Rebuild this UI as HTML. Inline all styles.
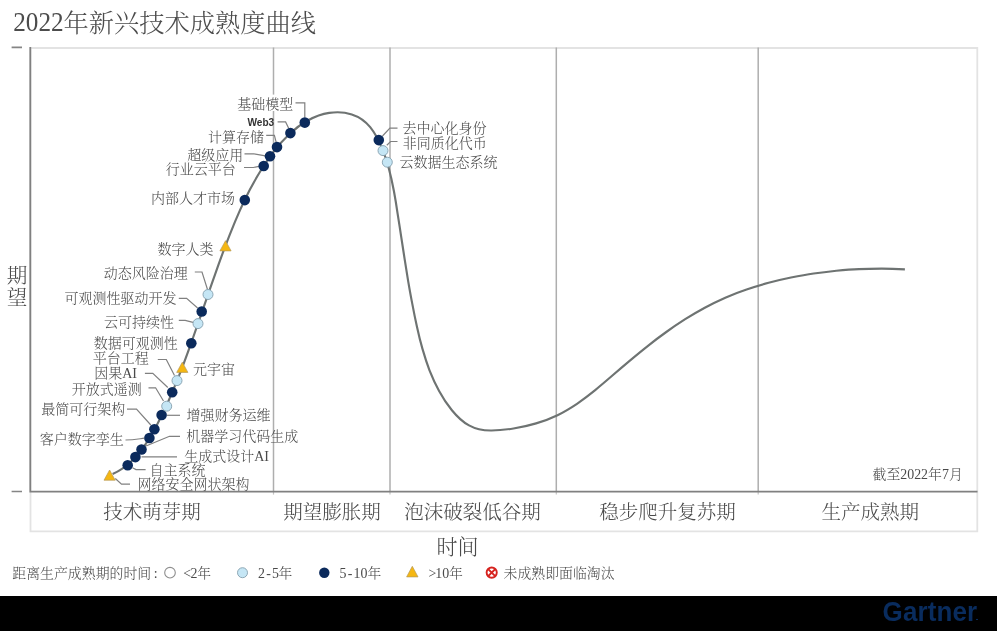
<!DOCTYPE html>
<html lang="zh-CN">
<head>
<meta charset="utf-8">
<title>2022年新兴技术成熟度曲线</title>
<style>
html,body{margin:0;padding:0;background:#fff;}
body{width:997px;height:631px;overflow:hidden;position:relative;}
svg{position:absolute;left:0;top:0;display:block;}
.title{position:absolute;left:13.2px;top:3px;margin:0;height:40px;line-height:40px;white-space:nowrap;font-family:"Liberation Serif","Noto Serif CJK SC",serif;font-weight:300;font-size:25.25px;color:#4c4c4c;}
.title .num{display:inline-block;font-size:25.2px;transform:translateY(-1.2px) scaleY(1.07);transform-origin:0 28.5px;margin-right:0;}
.bar{position:absolute;left:0;top:596px;width:997px;height:35px;background:#000;}
.logo{position:absolute;left:882.6px;top:-4.1px;height:40px;line-height:40px;font-family:"Liberation Sans",sans-serif;font-weight:bold;font-size:26px;letter-spacing:0.1px;color:#092c5e;transform:scaleY(1.03);transform-origin:0 29px;white-space:nowrap;}
.dot{position:absolute;left:93.8px;top:26.9px;width:1.6px;height:1.6px;background:#092c5e;}
text{font-family:"Liberation Serif","Noto Serif CJK SC",serif;fill:#4a4a4a;font-weight:300;}
.lb{font-size:14px;}
.ax{font-size:19.5px;}
.lg{font-size:13.9px;}
</style>
</head>
<body>
<svg width="997" height="631" viewBox="0 0 997 631">
<rect x="0" y="0" width="997" height="631" fill="#fff"/>
<path d="M30.5 48H977.3V531.4H30.5Z" fill="none" stroke="#e3e3e3" stroke-width="1.8"/>
<line x1="273.5" y1="47.5" x2="273.5" y2="491.5" stroke="#aeaeae" stroke-width="1.5"/>
<line x1="273.5" y1="491.5" x2="273.5" y2="494.6" stroke="#c4c4c4" stroke-width="1.2"/>
<line x1="390.0" y1="47.5" x2="390.0" y2="491.5" stroke="#aeaeae" stroke-width="1.5"/>
<line x1="390.0" y1="491.5" x2="390.0" y2="494.6" stroke="#c4c4c4" stroke-width="1.2"/>
<line x1="556.3" y1="47.5" x2="556.3" y2="491.5" stroke="#aeaeae" stroke-width="1.5"/>
<line x1="556.3" y1="491.5" x2="556.3" y2="494.6" stroke="#c4c4c4" stroke-width="1.2"/>
<line x1="758.2" y1="47.5" x2="758.2" y2="491.5" stroke="#aeaeae" stroke-width="1.5"/>
<line x1="758.2" y1="491.5" x2="758.2" y2="494.6" stroke="#c4c4c4" stroke-width="1.2"/>
<rect x="238" y="94.6" width="56" height="16.4" fill="#fff"/>
<path d="M30.3 47V491.7H977.5" fill="none" stroke="#808080" stroke-width="1.8"/>
<path d="M11.6 47.4H22M11.6 491.5H22" stroke="#858585" stroke-width="1.6"/>
<text x="6.8" y="282.6" style="font-size:20.6px">期</text>
<text x="6.8" y="305" style="font-size:20.6px">望</text>
<path d="M112.6 474.1C119.8 470.9 126.0 466.5 131.4 461.3C136.9 456.1 141.6 450.1 145.8 443.8C150.0 437.4 153.8 430.7 157.4 423.9C161.0 417.1 164.3 410.2 167.5 403.3C170.6 396.3 173.6 389.3 176.4 382.2C179.3 375.2 182.0 368.1 184.7 360.9C187.3 353.8 189.9 346.6 192.4 339.5C195.0 332.3 197.5 325.1 200.0 317.9C202.5 310.7 204.9 303.5 207.4 296.3C209.9 289.1 212.4 281.8 215.0 274.6C217.5 267.4 220.1 260.2 222.7 253.1C225.4 245.9 228.1 238.7 231.0 231.6C233.8 224.5 236.8 217.4 239.9 210.4C243.0 203.4 246.3 196.5 249.8 189.8C253.4 183.0 257.1 176.4 261.1 170.0C265.1 163.5 269.4 157.3 274.0 151.2C278.6 145.2 283.6 139.5 289.2 134.2C294.8 129.0 301.0 124.2 307.8 120.5C314.5 116.8 321.7 114.0 329.2 112.9C336.7 111.7 344.6 112.1 351.8 114.4C359.0 116.7 365.3 121.1 370.2 127.1C375.0 133.1 378.6 140.1 381.6 147.1C384.5 154.1 386.9 161.4 388.9 168.7C390.9 176.0 392.5 183.5 393.9 191.0C395.3 198.5 396.5 206.0 397.6 213.6C398.8 221.1 400.0 228.6 401.1 236.2C402.3 243.7 403.4 251.3 404.6 258.8C405.8 266.4 407.0 273.9 408.2 281.4C409.5 288.9 410.8 296.4 412.3 303.9C413.7 311.4 415.2 318.9 416.9 326.4C418.5 333.8 420.3 341.3 422.4 348.6C424.5 355.9 426.8 363.2 429.5 370.3C432.3 377.3 435.4 384.3 439.1 391.0C442.7 397.7 447.0 404.2 451.9 410.2C456.8 416.2 462.4 421.8 469.0 425.4C475.5 429.0 483.0 430.5 490.6 430.5C498.1 430.6 505.9 429.7 513.5 428.5C521.2 427.3 528.8 425.6 536.1 423.4C543.5 421.2 550.7 418.5 557.5 415.2C564.3 411.9 570.7 408.0 577.0 403.8C583.2 399.5 589.3 394.9 595.2 390.1C601.1 385.3 606.9 380.3 612.7 375.3C618.5 370.2 624.3 365.2 630.2 360.3C636.1 355.4 642.0 350.5 648.0 345.8C654.0 341.0 660.1 336.4 666.3 332.0C672.5 327.5 678.8 323.3 685.2 319.2C691.6 315.1 698.1 311.3 704.8 307.7C711.5 304.1 718.3 300.8 725.3 297.7C732.2 294.7 739.4 291.9 746.6 289.5C753.8 287.0 761.2 284.7 768.6 282.8C776.0 280.8 783.5 279.0 791.0 277.5C798.6 276.0 806.1 274.6 813.7 273.5C821.2 272.4 828.8 271.5 836.3 270.7C843.9 270.0 851.4 269.4 859.0 269.1C866.5 268.7 874.1 268.6 881.8 268.6C889.4 268.7 897.1 269.0 904.9 269.4" fill="none" stroke="#6e7372" stroke-width="2.15"/>
<g fill="none" stroke="#808080" stroke-width="1.2">
<path d="M295.5 102.9H304.8V117.5"/>
<path d="M277.6 121.9H285.6L288.8 128.5"/>
<path d="M266.2 135.3H274.4L276.2 142.3"/>
<path d="M244.5 153.9H254L265.4 155.8"/>
<path d="M244 167.5H253.5L259 166.3"/>
<path d="M194.8 272H202L207.5 289.5"/>
<path d="M178.8 298.4H186.6L197.6 308"/>
<path d="M178.8 320.3H185.2L193 322.3"/>
<path d="M157.8 359.5H166.3L174.5 375.5"/>
<path d="M144.9 373.4H152.8L167.8 387.5"/>
<path d="M148.5 387.8H155.6L163.5 401"/>
<path d="M127 409.2H136.5L150.8 425"/>
<path d="M125.5 440 C133 440 138 439 144.2 438.2"/>
<path d="M166.8 415.3H180"/>
<path d="M146 446 L169.5 436.3H180"/>
<path d="M141.5 456.8H177"/>
<path d="M132.5 467.8L136 469.6H145.6"/>
<path d="M115.3 478.5L121.5 484.2H130"/>
<path d="M382.5 136L389.9 128.1H397.5"/>
<path d="M386.8 145.2L390.6 141.5H397.5"/>
</g>
<path d="M109.6 470.0L115.2 480.2H104.0Z" fill="#f5b712" stroke="#b59a5a" stroke-width="0.7"/>
<circle cx="127.7" cy="465.2" r="5.3" fill="#0b2a5c"/>
<circle cx="135.4" cy="457.1" r="5.3" fill="#0b2a5c"/>
<circle cx="141.5" cy="449.5" r="5.3" fill="#0b2a5c"/>
<circle cx="149.4" cy="438.0" r="5.3" fill="#0b2a5c"/>
<circle cx="154.4" cy="429.2" r="5.3" fill="#0b2a5c"/>
<circle cx="161.6" cy="415.0" r="5.3" fill="#0b2a5c"/>
<circle cx="166.7" cy="406.2" r="5" fill="#c5e6f5" stroke="#849fae" stroke-width="0.9"/>
<circle cx="172.2" cy="392.2" r="5.3" fill="#0b2a5c"/>
<circle cx="177.0" cy="380.6" r="5" fill="#c5e6f5" stroke="#849fae" stroke-width="0.9"/>
<path d="M182.3 362.2L187.9 372.4H176.7Z" fill="#f5b712" stroke="#b59a5a" stroke-width="0.7"/>
<circle cx="191.3" cy="343.2" r="5.3" fill="#0b2a5c"/>
<circle cx="198.0" cy="323.6" r="5" fill="#c5e6f5" stroke="#849fae" stroke-width="0.9"/>
<circle cx="201.7" cy="311.5" r="5.3" fill="#0b2a5c"/>
<circle cx="208.0" cy="294.5" r="5" fill="#c5e6f5" stroke="#849fae" stroke-width="0.9"/>
<path d="M225.5 240.7L231.1 250.9H219.9Z" fill="#f5b712" stroke="#b59a5a" stroke-width="0.7"/>
<circle cx="244.8" cy="200.1" r="5.3" fill="#0b2a5c"/>
<circle cx="263.7" cy="166.0" r="5.3" fill="#0b2a5c"/>
<circle cx="270.0" cy="156.2" r="5.3" fill="#0b2a5c"/>
<circle cx="277.0" cy="147.1" r="5.3" fill="#0b2a5c"/>
<circle cx="290.4" cy="133.1" r="5.3" fill="#0b2a5c"/>
<circle cx="304.8" cy="122.6" r="5.3" fill="#0b2a5c"/>
<circle cx="378.8" cy="140.1" r="5.3" fill="#0b2a5c"/>
<circle cx="383.0" cy="150.6" r="5" fill="#c5e6f5" stroke="#849fae" stroke-width="0.9"/>
<circle cx="387.3" cy="162.2" r="5" fill="#c5e6f5" stroke="#849fae" stroke-width="0.9"/>
<text class="lb" x="293.2" y="109.2" text-anchor="end">基础模型</text>
<text class="lb" x="264.0" y="141.6" text-anchor="end">计算存储</text>
<text class="lb" x="243.2" y="160.0" text-anchor="end">超级应用</text>
<text class="lb" x="235.8" y="174.2" text-anchor="end">行业云平台</text>
<text class="lb" x="235.0" y="203.0" text-anchor="end">内部人才市场</text>
<text class="lb" x="213.5" y="254.3" text-anchor="end">数字人类</text>
<text class="lb" x="187.7" y="277.8" text-anchor="end">动态风险治理</text>
<text class="lb" x="176.5" y="302.6" text-anchor="end">可观测性驱动开发</text>
<text class="lb" x="174.0" y="326.7" text-anchor="end">云可持续性</text>
<text class="lb" x="177.8" y="348.3" text-anchor="end">数据可观测性</text>
<text class="lb" x="148.8" y="363.4" text-anchor="end">平台工程</text>
<text class="lb" x="137.0" y="378.0" text-anchor="end">因果AI</text>
<text class="lb" x="141.8" y="393.5" text-anchor="end">开放式遥测</text>
<text class="lb" x="125.2" y="414.4" text-anchor="end">最简可行架构</text>
<text class="lb" x="123.8" y="443.7" text-anchor="end">客户数字孪生</text>
<text class="lb" x="193.0" y="374.2">元宇宙</text>
<text class="lb" x="186.6" y="419.8">增强财务运维</text>
<text class="lb" x="186.2" y="440.8">机器学习代码生成</text>
<text class="lb" x="184.2" y="460.9">生成式设计AI</text>
<text class="lb" x="149.4" y="474.5">自主系统</text>
<text class="lb" x="137.6" y="488.6">网络安全网状架构</text>
<text class="lb" x="402.5" y="132.5">去中心化身份</text>
<text class="lb" x="402.7" y="148.4">非同质化代币</text>
<text class="lb" x="399.6" y="167.3">云数据生态系统</text>
<text transform="translate(274.2 126) scale(0.9 1)" text-anchor="end" style="font-family:'Liberation Sans',sans-serif;font-weight:bold;font-size:11.2px;fill:#333">Web3</text>
<text class="lg" x="872.5" y="478.8">截至2022年7月</text>
<text class="ax" x="152.1" y="519" text-anchor="middle">技术萌芽期</text>
<text class="ax" x="332.0" y="519" text-anchor="middle">期望膨胀期</text>
<text class="ax" x="472.5" y="519" text-anchor="middle">泡沫破裂低谷期</text>
<text class="ax" x="667.5" y="519" text-anchor="middle">稳步爬升复苏期</text>
<text class="ax" x="870.2" y="519" text-anchor="middle">生产成熟期</text>
<text x="457.5" y="553.5" text-anchor="middle" style="font-size:21px">时间</text>
<text class="lg" x="12.3" y="578">距离生产成熟期的时间<tspan dx="2.5">:</tspan></text>
<circle cx="170" cy="572.7" r="5.3" fill="#fff" stroke="#8e8e8e" stroke-width="1.1"/>
<text class="lg" x="183.3 190.5 197.2" y="578">&lt;2年</text>
<circle cx="242.5" cy="572.7" r="5" fill="#c5e6f5" stroke="#849fae" stroke-width="0.9"/>
<text class="lg" x="258 266.2 271.9 278.6" y="578">2-5年</text>
<circle cx="324.3" cy="572.7" r="5.2" fill="#0b2a5c"/>
<text class="lg" x="339.5 347.7 353.4 360.4 367.5" y="578">5-10年</text>
<path d="M412.3 566.3L418 576.9H406.6Z" fill="#f5b712" stroke="#b59a5a" stroke-width="0.7"/>
<text class="lg" x="428.6 435.3 442.3 449.1" y="578">&gt;10年</text>
<g stroke="#d6231f" fill="none"><circle cx="491.7" cy="572.6" r="5.1" fill="#fff" stroke-width="1.9"/><path d="M488.2 569.1L495.2 576.1M495.2 569.1L488.2 576.1" stroke-width="2"/></g>
<text class="lg" x="503.5" y="578">未成熟即面临淘汰</text>
</svg>
<h1 class="title"><span class="num">2022</span>年新兴技术成熟度曲线</h1>
<footer class="bar"><span class="logo">Gartner<i class="dot"></i></span></footer>
</body>
</html>
